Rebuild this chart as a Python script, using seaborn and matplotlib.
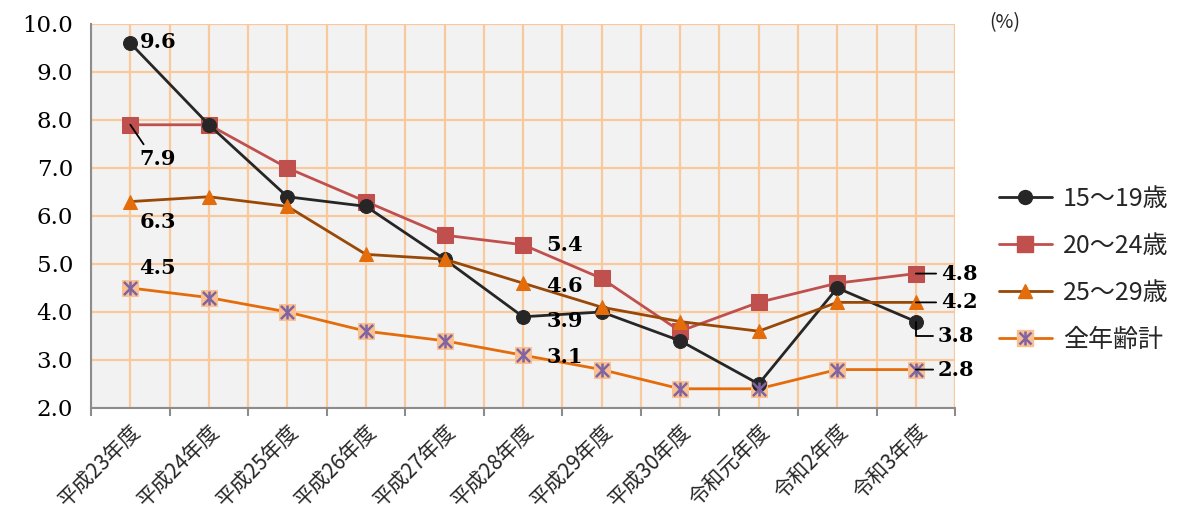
import matplotlib
matplotlib.use('Agg')
import matplotlib.pyplot as plt
import seaborn as sns
from matplotlib.lines import Line2D

years = ['平成23年度', '平成24年度', '平成25年度', '平成26年度', '平成27年度', '平成28年度',
         '平成29年度', '平成30年度', '令和元年度', '令和2年度', '令和3年度']
age_15_19 = [9.6, 7.9, 6.4, 6.2, 5.1, 3.9, 4.0, 3.4, 2.5, 4.5, 3.8]
age_20_24 = [7.9, 7.9, 7.0, 6.3, 5.6, 5.4, 4.7, 3.6, 4.2, 4.6, 4.8]
age_25_29 = [6.3, 6.4, 6.2, 5.2, 5.1, 4.6, 4.1, 3.8, 3.6, 4.2, 4.2]
all_ages = [4.5, 4.3, 4.0, 3.6, 3.4, 3.1, 2.8, 2.4, 2.4, 2.8, 2.8]
series_names = ['15～19歳', '20～24歳', '25～29歳', '全年齢計']

sns.set_theme(style='white')
plt.rcParams['font.family'] = ['Noto Sans CJK JP', 'DejaVu Sans']

c_black = '#262626'
c_red = '#c0504d'
c_brown = '#984807'
c_orange = '#e46c0a'
c_peach = '#fac090'
c_purple = '#8064a2'
c_grid = '#f9c89b'

fig = plt.figure(figsize=(11.81, 5.11), dpi=100)
ax = fig.add_axes([0.0771, 0.2016, 0.7316, 0.7515])
ax.set_facecolor('#f2f2f2')

x = list(range(len(years)))

sns.lineplot(x=x, y=age_15_19, ax=ax, color=c_black, linewidth=2, marker='o',
             markersize=10, markeredgecolor=c_black, zorder=4)
sns.lineplot(x=x, y=age_20_24, ax=ax, color=c_red, linewidth=2, marker='s',
             markersize=11, markeredgecolor=c_red, zorder=3)
sns.lineplot(x=x, y=age_25_29, ax=ax, color=c_brown, linewidth=2, marker='^',
             markersize=10, markerfacecolor=c_orange, markeredgecolor=c_orange, zorder=5)
sns.lineplot(x=x, y=all_ages, ax=ax, color=c_orange, linewidth=2, marker='s',
             markersize=11, markerfacecolor=c_peach, markeredgecolor=c_peach, zorder=3)
sns.scatterplot(x=x, y=all_ages, ax=ax, marker='x', color=c_purple, s=90, linewidth=1.8, zorder=6)
sns.scatterplot(x=x, y=all_ages, ax=ax, marker='|', color=c_purple, s=110, linewidth=1.8, zorder=6)

ax.set_xlim(-0.5, len(years) - 0.5)
ax.set_ylim(2, 10)
ax.set_yticks([2, 3, 4, 5, 6, 7, 8, 9, 10])
ax.set_yticklabels([f'{v:.1f}' for v in range(2, 11)], family='DejaVu Serif', fontsize=16.5, color='black')
ax.tick_params(axis='y', length=0, pad=13)

# ticks at category edges, labels at category centers
ax.set_xticks([i - 0.5 for i in range(len(years) + 1)])
ax.set_xticklabels([])
ax.set_xticks(x, minor=True)
ax.set_xticklabels(years, minor=True, rotation=45, ha='right', rotation_mode='anchor', fontsize=15)
ax.tick_params(axis='x', which='major', length=6, width=1.5, color='#8c8c8c', bottom=True)
ax.tick_params(axis='x', which='minor', length=0, pad=9)

ax.grid(True, which='both', color=c_grid, linewidth=1.6)
ax.set_axisbelow(True)
for side in ['top', 'right']:
    ax.spines[side].set_visible(False)
for side in ['left', 'bottom']:
    ax.spines[side].set_color('#8c8c8c')
    ax.spines[side].set_linewidth(1.5)
ax.set_xlabel('')
ax.set_ylabel('')

# data labels
def label(val, i, dx, dy, leader=None, conn='arc3'):
    kw = dict(textcoords='offset pixels', family='DejaVu Serif', fontweight='bold',
              fontsize=15, color='black', va='center', ha='left', zorder=7)
    if leader is not None:
        kw['arrowprops'] = dict(arrowstyle='-', color='black', lw=1.3, shrinkA=1, shrinkB=0,
                                relpos=leader, connectionstyle=conn)
    ax.annotate(f'{val:.1f}', xy=(i, val), xytext=(dx, dy), **kw)

label(age_15_19[0], 0, 10, 1)
label(age_20_24[0], 0, 9, -34, leader=(0.2, 1.0))
label(age_25_29[0], 0, 9, -20)
label(all_ages[0], 0, 9, 20)
label(age_20_24[5], 5, 23, 0)
label(age_25_29[5], 5, 23, -3)
label(age_15_19[5], 5, 23, -4)
label(all_ages[5], 5, 23, -2)
label(age_20_24[10], 10, 25, 0, leader=(0, 0.5))
label(age_25_29[10], 10, 25, 0, leader=(0, 0.5))
label(age_15_19[10], 10, 22, -14, leader=(0, 0.5), conn='angle,angleA=0,angleB=90,rad=0')
label(all_ages[10], 10, 22, 0, leader=(0, 0.5))

fig.text(0.838, 0.955, '(%)', fontsize=14, ha='left', va='center')

handles = [
    Line2D([], [], color=c_black, lw=2, marker='o', markersize=10),
    Line2D([], [], color=c_red, lw=2, marker='s', markersize=11),
    Line2D([], [], color=c_brown, lw=2, marker='^', markersize=10,
           markerfacecolor=c_orange, markeredgecolor=c_orange),
    (Line2D([], [], color=c_orange, lw=2, marker='s', markersize=11,
            markerfacecolor=c_peach, markeredgecolor=c_peach),
     Line2D([], [], ls='', marker='x', color=c_purple, markersize=9, mew=1.8),
     Line2D([], [], ls='', marker='|', color=c_purple, markersize=10, mew=1.8)),
]
fig.legend(handles, series_names, loc='upper left', bbox_to_anchor=(0.827, 0.68),
           frameon=False, fontsize=18, handlelength=2.1, labelspacing=0.84,
           handletextpad=0.45)

fig.savefig('out.png', dpi=100)
